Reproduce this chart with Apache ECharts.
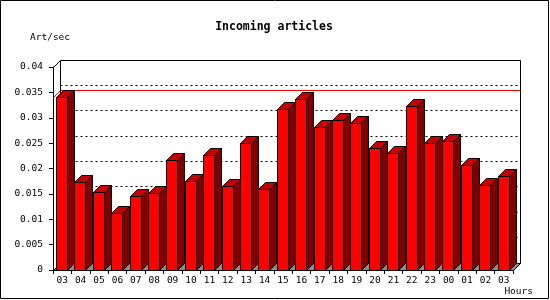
<!DOCTYPE html>
<html>
<head>
<meta charset="utf-8">
<script src="https://cdn.jsdelivr.net/npm/echarts@6/dist/echarts.min.js"></script>
<style>
html,body{margin:0;padding:0;background:#fff;}
#chart{width:550px;height:300px;}
</style>
</head>
<body>
<div id="chart"></div>
<script>
const titleText = 'Incoming articles';
const yAxisName = 'Art/sec';
const xAxisName = 'Hours';
const categories = ['03','04','05','06','07','08','09','10','11','12','13','14','15','16','17','18','19','20','21','22','23','00','01','02','03'];
const values = [0.0340,0.0173,0.0153,0.0112,0.0145,0.0151,0.0216,0.0175,0.0226,0.0165,0.0250,0.0159,0.0317,0.0335,0.0281,0.0294,0.0289,0.0240,0.0229,0.0323,0.0250,0.0254,0.0206,0.0167,0.0185];
const yMin = 0, yMax = 0.04, yStep = 0.005;
const gridValues = [0.005,0.01,0.015,0.02,0.025,0.03,0.035];

const D = 7;
const FONT = 'DejaVu Sans Mono';
const snap = v => Math.round(v - 0.5) + 0.5;

const chart = echarts.init(document.getElementById('chart'), null, {renderer:'canvas'});

function frameRender(params, api) {
  const band = api.size([1, 0])[0];
  const p0 = api.coord([0, yMin]);
  const pTop = api.coord([0, yMax]);
  const xL = snap(p0[0] - band / 2);
  const xR = snap(api.coord([categories.length - 1, yMin])[0] + band / 2);
  const yB = snap(p0[1]);
  const yT = snap(pTop[1]);
  const children = [];
  const line = (x1, y1, x2, y2, style) => children.push({type:'line', shape:{x1,y1,x2,y2}, style:Object.assign({stroke:'#000', lineWidth:1}, style || {})});
  // grid lines on back wall
  gridValues.forEach(v => {
    const y = snap(api.coord([0, v])[1]) - D;
    line(xL + D, y, xR + D, y, {lineDash:[2,3]});
  });
  // max line
  const maxVal = Math.max.apply(null, values);
  const ym = snap(api.coord([0, maxVal])[1]);
  line(xL, ym, xL + D, ym - D, {stroke:'#ff0000'});
  line(xL + D, ym - D, xR + D, ym - D, {stroke:'#ff0000'});
  // back wall edges
  line(xL, yT, xL + D, yT - D);
  line(xL + D, yT - D, xR + D, yT - D);
  line(xL + D, yT - D, xL + D, yB - D);
  line(xR + D, yT - D, xR + D, yB - D);
  // floor
  children.push({type:'polygon', shape:{points:[[xL,yB],[xL+D,yB-D],[xR+D,yB-D],[xR,yB]]}, style:{fill:'#8c8c8c', stroke:'#000', lineWidth:1}});
  return {type:'group', children};
}

function barRender(params, api) {
  const idx = api.value(0), v = api.value(1);
  const band = api.size([1, 0])[0];
  const base = api.coord([idx, yMin]);
  const top = api.coord([idx, v]);
  const x0 = snap(base[0] - band / 2 + band * 0.19);
  const x1 = snap(base[0] - band / 2 + band * 0.19 + band * 0.6);
  const yB = snap(base[1]);
  const yT = snap(top[1]);
  const st = fill => ({fill, stroke:'#000', lineWidth:1});
  return {type:'group', children:[
    {type:'polygon', shape:{points:[[x1,yT],[x1+D,yT-D],[x1+D,yB-D],[x1,yB]]}, style:st('#800000')},
    {type:'polygon', shape:{points:[[x0,yT],[x1,yT],[x1+D,yT-D],[x0+D,yT-D]]}, style:st('#c40000')},
    {type:'rect', shape:{x:x0, y:yT, width:x1-x0, height:yB-yT}, style:st('#ff0000')}
  ]};
}

chart.setOption({
  animation:false,
  backgroundColor:'#fff',
  title:{show:false},
  grid:{left:53, top:67, width:460, height:203},
  xAxis:{
    type:'category', data:categories, boundaryGap:true,
    axisLine:{show:true, lineStyle:{color:'#000', width:1}},
    axisTick:{show:true, length:4, inside:false, alignWithLabel:false, lineStyle:{color:'#000'}},
    axisLabel:{show:true, interval:0, color:'#000', fontFamily:FONT, fontSize:9.5, margin:6},
    splitLine:{show:false}
  },
  yAxis:{
    type:'value', min:yMin, max:yMax, interval:yStep,
    axisLine:{show:true, lineStyle:{color:'#000', width:1}},
    axisTick:{show:true, length:4, lineStyle:{color:'#000'}},
    axisLabel:{show:true, color:'#000', fontFamily:FONT, fontSize:9.5, margin:10},
    splitLine:{show:false}
  },
  graphic:[
    {type:'rect', shape:{x:0.5, y:0.5, width:548, height:298}, style:{fill:'none', stroke:'#000', lineWidth:1}, z:100},
    {type:'text', x:274, y:27, style:{text:titleText, font:'bold 11.5px "DejaVu Sans Mono"', fill:'#000', align:'center', verticalAlign:'middle'}},
    {type:'text', x:30, y:38, style:{text:yAxisName, font:'9.5px "DejaVu Sans Mono"', fill:'#000', align:'left', verticalAlign:'middle'}},
    {type:'text', x:533, y:292, style:{text:xAxisName, font:'9.5px "DejaVu Sans Mono"', fill:'#000', align:'right', verticalAlign:'middle'}}
  ],
  series:[
    {type:'custom', name:'frame', renderItem:frameRender, data:[[0, 0]], z:1, silent:true, clip:false},
    {type:'custom', name:'bars', renderItem:barRender, data:values.map((v,i)=>[i,v]), z:2, silent:true, clip:false, encode:{x:0, y:1}}
  ]
});
</script>
</body>
</html>
